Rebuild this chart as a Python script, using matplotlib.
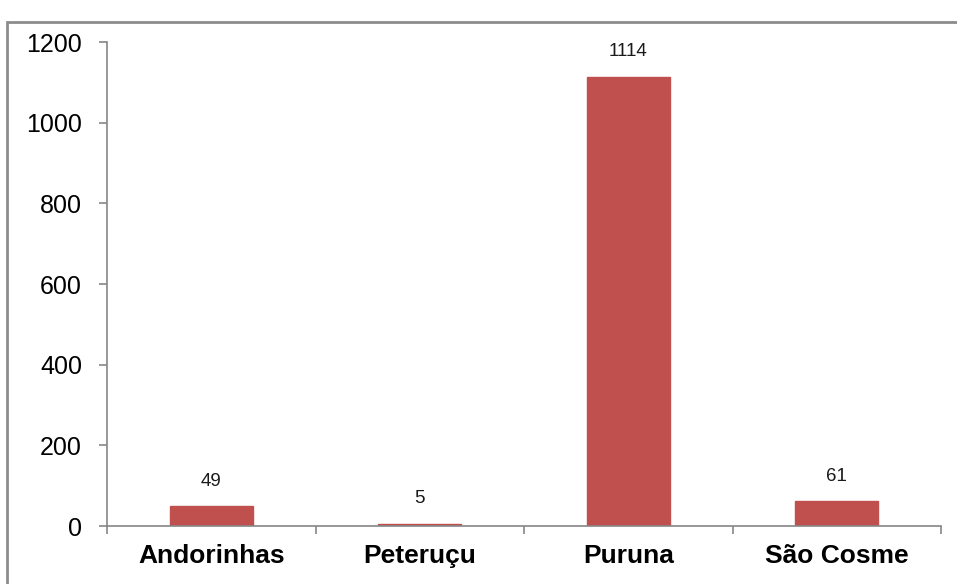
import matplotlib
matplotlib.use('Agg')
from matplotlib import pyplot as plt
from matplotlib.patches import Rectangle
import numpy as np

plt.rcParams['font.family'] = ['Liberation Sans', 'DejaVu Sans']

locais = ['Andorinhas', 'Peteruçu', 'Puruna', 'São Cosme']
valores = [49, 5, 1114, 61]
yticks = [0, 200, 400, 600, 800, 1000, 1200]

W, H = 957, 584
fig = plt.figure(figsize=(W / 100, H / 100), dpi=100)
fig.patch.set_facecolor('white')

# moldura cinza do gráfico (continua além da borda direita/inferior)
fig.patches.append(Rectangle((7 / W, -0.1), 1.2, (H - 22) / H + 0.1,
                             transform=fig.transFigure, fill=False,
                             edgecolor='#8c8c8c', linewidth=2.0))

ax = fig.add_axes([107 / W, 1 - 526 / H, (941 - 107) / W, (526 - 42) / H])
x = np.arange(len(locais))
bars = ax.bar(x, valores, width=0.4, color='#C0504D', edgecolor='#C0504D')

for xi, v in zip(x, valores):
    ax.annotate(str(v), (xi, v), xytext=(0, 12), textcoords='offset points',
                ha='center', va='bottom', fontsize=13.5, color='#1a1a1a')

ax.set_xlim(-0.5, len(locais) - 0.5)
ax.set_ylim(0, 1200)
ax.set_yticks(yticks)
ax.set_yticklabels([str(t) for t in yticks], fontsize=18)
ax.set_xticks(x)
ax.set_xticklabels(locais, fontsize=19, fontweight='bold')
ax.set_xticks(np.arange(-0.5, len(locais)), minor=True)
ax.tick_params(axis='x', which='major', length=0, pad=13)
ax.tick_params(axis='x', which='minor', length=6, color='#868686', width=1.2)
ax.tick_params(axis='y', length=6, color='#868686', width=1.2, pad=12)

for s in ['top', 'right']:
    ax.spines[s].set_visible(False)
for s in ['left', 'bottom']:
    ax.spines[s].set_color('#868686')
    ax.spines[s].set_linewidth(1.2)

fig.savefig('out.png', dpi=100)
